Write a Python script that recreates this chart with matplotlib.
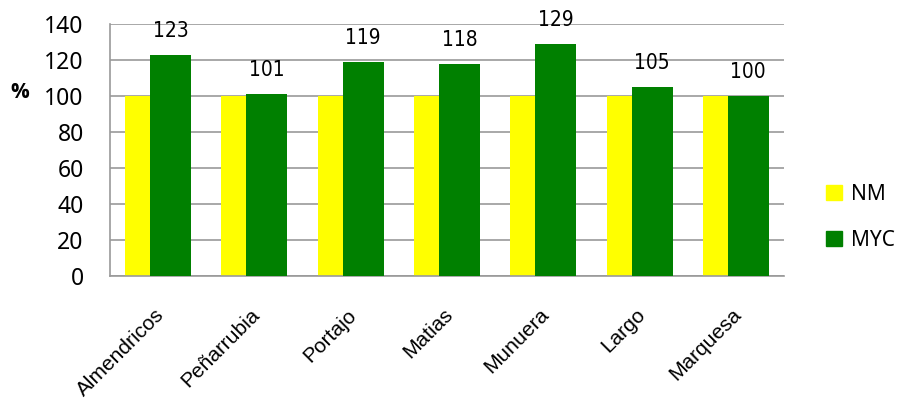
import numpy as np
import matplotlib.pyplot as plt
import matplotlib.transforms as mtransforms
from matplotlib.patches import Patch

# Data
sites = ['Almendricos', 'Peñarrubia', 'Portajo', 'Matias', 'Munuera', 'Largo', 'Marquesa']
nm = [100, 100, 100, 100, 100, 100, 100]
myc = [123, 101, 119, 118, 129, 105, 100]

yellow = '#FFFF00'
green = '#008000'

fig = plt.figure(figsize=(8.99, 3.99), dpi=100)
ax = fig.add_axes([0.1224, 0.308, 0.7496, 0.632])

x = np.arange(len(sites))
width = 0.426
ax.bar(x - 0.13, nm, width, color=yellow, zorder=2)
ax.bar(x + 0.13, myc, width, color=green, zorder=3)

# value labels above MYC bars
for xi, v in zip(x, myc):
    ax.text(xi + 0.13, v + 10, str(v), ha='center', va='baseline',
            fontsize=15, family='DejaVu Sans', fontstretch='condensed')

ax.set_xlim(-0.5, len(sites) - 0.5)
ax.set_ylim(0, 140)
ax.set_yticks(range(0, 141, 20))
ax.yaxis.grid(True, color='#999999', linewidth=1.2, zorder=0)
ax.set_axisbelow(True)
ax.tick_params(axis='y', length=0, pad=19, labelsize=16.5)
for lbl in ax.get_yticklabels():
    lbl.set_family('Noto Sans')

ax.set_xticks(x)
ax.set_xticklabels(sites, rotation=45, ha='right', rotation_mode='anchor',
                   fontsize=15, family='Liberation Sans')
ax.tick_params(axis='x', length=0, pad=21)
shift = mtransforms.ScaledTranslation(-4 / 100, 0, fig.dpi_scale_trans)
for lbl in ax.get_xticklabels():
    lbl.set_transform(lbl.get_transform() + shift)

for s in ['top', 'right']:
    ax.spines[s].set_visible(False)
ax.spines['left'].set_color('#999999')
ax.spines['bottom'].set_color('#999999')
ax.spines['left'].set_linewidth(1.2)
ax.spines['bottom'].set_linewidth(1.2)

fig.text(0.011, 0.767, '%', fontsize=15, fontweight='bold',
         family=['Open Sans', 'DejaVu Sans'], va='center')

handles = [Patch(color=yellow, label='NM'), Patch(color=green, label='MYC')]
fig.legend(handles=handles, loc='center left', bbox_to_anchor=(0.898, 0.456),
           frameon=False, handlelength=0.75, handleheight=0.75,
           labelspacing=1.2, handletextpad=0.45,
           prop={'family': 'Noto Sans', 'size': 15})

fig.savefig('out.png', dpi=100)
